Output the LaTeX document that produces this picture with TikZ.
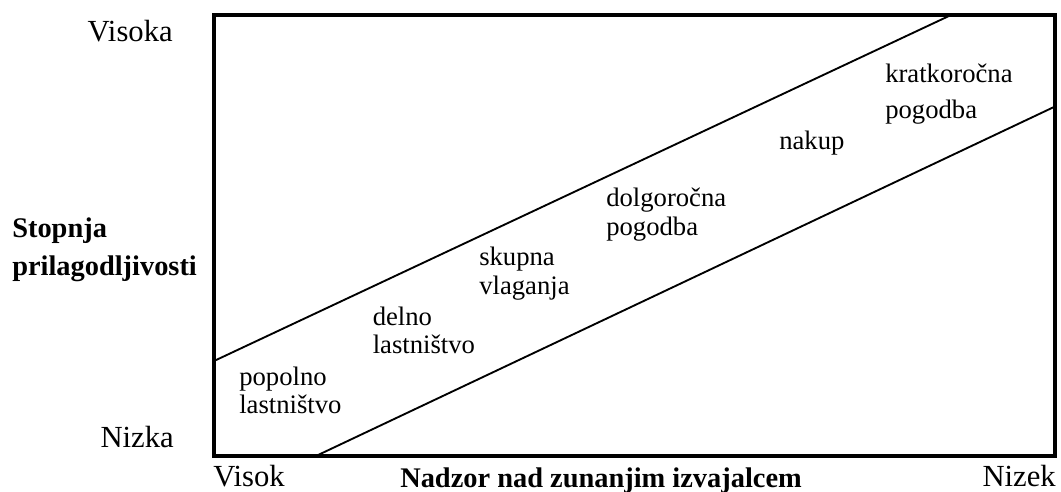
\documentclass[tikz,border=0pt]{standalone}
\usepackage{fontspec}
\setmainfont{Liberation Serif}
\begin{document}
\begin{tikzpicture}[x=0.75pt,y=-0.75pt,
  big/.style={font=\fontsize{23}{27}\selectfont, inner sep=0pt},
  axis/.style={font=\fontsize{21.3}{28.5}\selectfont\bfseries, inner sep=0pt, align=left},
  lab/.style={font=\fontsize{20}{21.2}\selectfont, inner sep=0pt, align=left},
  frame/.style={line width=3pt},
  band/.style={line width=1.4pt}]
\useasboundingbox (0,0) rectangle (1061,492);
\draw[frame] (214,15.5) rectangle (1055,455.5);
\coordinate (u1) at (214,361);
\coordinate (u2) at (950,15.5);
\coordinate (l1) at (317,455.5);
\coordinate (l2) at (1055,106.5);
\draw[band] (u1) -- (u2);
\draw[band] (l1) -- (l2);
\node[big, anchor=base east] (visoka) at (173,42) {Visoka};
\node[big, anchor=base east] (nizka) at (174,447) {Nizka};
\node[big, anchor=base west, text depth=0pt] (visok) at (213,486.5) {Visok};
\node[big, anchor=base east, text depth=0pt] (nizek) at (1056,486.5) {Nizek};
\node[axis, anchor=base west, text depth=0pt] (xlab) at (400,487.5) {Nadzor nad zunanjim izvajalcem};
\node[axis, anchor=base west] (ylab) at (12,275) {Stopnja\\prilagodljivosti};
\node[lab, anchor=base west] (p1) at (239,413.3) {popolno\\lastništvo};
\node[lab, anchor=base west] (p2) at (372.5,353.3) {delno\\lastništvo};
\node[lab, anchor=base west] (p3) at (479,294) {skupna\\vlaganja};
\node[lab, anchor=base west] (p4) at (606,235) {dolgoročna\\pogodba};
\node[lab, anchor=base west] (p5) at (779,149.3) {nakup};
\node[lab, anchor=base west, font=\fontsize{20}{26.7}\selectfont] (p6) at (885,118.3) {kratkoročna\\pogodba};
\end{tikzpicture}
\end{document}
